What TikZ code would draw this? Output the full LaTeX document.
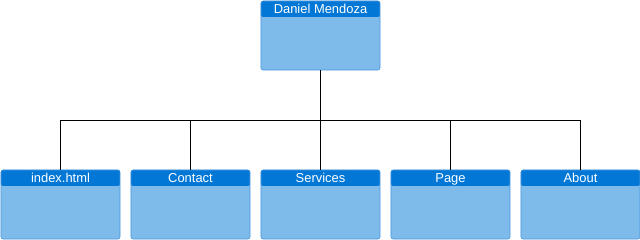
\documentclass[tikz,border=0pt]{standalone}
\usepackage{fontspec}
\setmainfont{Liberation Sans}
\usetikzlibrary{positioning}
\definecolor{SiteHead}{HTML}{0277D5}
\definecolor{SiteBody}{HTML}{7EBAEA}
\definecolor{SiteEdge}{HTML}{4A97DE}

\begin{document}
\begin{tikzpicture}[
    x=0.025cm,y=-0.025cm,
    font=\fontsize{9.2}{11}\selectfont,
    page/.style={draw=SiteEdge,fill=SiteBody,rounded corners=1.5pt,minimum width=2.975cm,minimum height=1.725cm,inner sep=0pt,
      path picture={\fill[SiteHead] (path picture bounding box.north west) rectangle ([yshift=-0.4cm]path picture bounding box.north east);}},
    head/.style={text=white,anchor=north,minimum height=0.4cm,inner sep=0pt,text height=1.6ex,text depth=0.45ex},
    wire/.style={black,line width=0.7pt}
  ]
    \useasboundingbox (0,0) rectangle (640,240);

    % site root
    \node[page] (root) at (320.5,35.5) {};
    \node[head] at (root.north) {Daniel Mendoza};

    % pages
    \node[page] (index) at (60.5,204.5) {};
    \node[page] (contact) at (190.5,204.5) {};
    \node[page] (services) at (320.5,204.5) {};
    \node[page] (pg) at (450.5,204.5) {};
    \node[page] (about) at (580.5,204.5) {};
    \node[head] at (index.north) {index.html};
    \node[head] at (contact.north) {Contact};
    \node[head] at (services.north) {Services};
    \node[head] at (pg.north) {Page};
    \node[head] at (about.north) {About};

    \coordinate (bus) at (320.5,120.5);
    \draw[wire] (root.south) -- (bus);
    \foreach \p in {index,contact,services,pg,about}
      \draw[wire] (bus) -| (\p.north);
  \end{tikzpicture}
\end{document}
